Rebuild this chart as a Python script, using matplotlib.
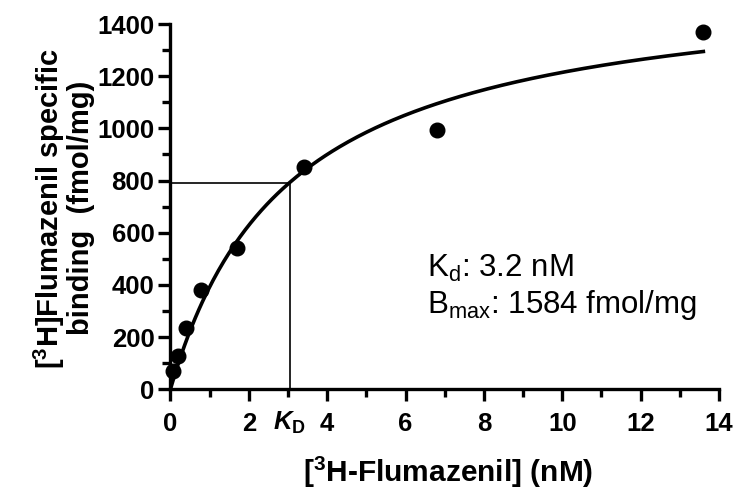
import numpy as np
import matplotlib
matplotlib.use('Agg')
import matplotlib.pyplot as plt
from matplotlib.ticker import MultipleLocator

plt.rcParams['font.family'] = ['Liberation Sans', 'DejaVu Sans']
plt.rcParams['mathtext.fontset'] = 'custom'
plt.rcParams['mathtext.rm'] = 'Liberation Sans'
plt.rcParams['mathtext.it'] = 'Liberation Sans:italic:bold'
plt.rcParams['mathtext.bf'] = 'Liberation Sans:bold'

# Data
conc_nM = [0.075, 0.2, 0.39, 0.78, 1.7, 3.4, 6.8, 13.6]
binding = [71, 128, 236, 381, 540, 853, 994, 1368]

# One-site fit (curve drawn through the points)
bmax = 1584
kd_fit = 3.04
kd_text = 3.2

fig = plt.figure(figsize=(7.38, 4.92), dpi=100)
ax = fig.add_axes([0.2309, 0.2087, 0.7434, 0.7425])

xs = np.linspace(0, conc_nM[-1], 300)
ax.plot(xs, bmax * xs / (xs + kd_fit), color='black', linewidth=2.6, clip_on=False, zorder=3)
ax.plot(conc_nM, binding, 'o', color='black', markersize=10.5, clip_on=False, zorder=4)

# Kd guide lines
half = bmax / 2
ax.plot([0, kd_fit], [half, half], color='black', linewidth=1.2)
ax.plot([kd_fit, kd_fit], [0, half], color='black', linewidth=1.2)

ax.set_xlim(0, 14)
ax.set_ylim(0, 1400)
ax.xaxis.set_major_locator(MultipleLocator(2))
ax.xaxis.set_minor_locator(MultipleLocator(1))
ax.yaxis.set_major_locator(MultipleLocator(200))
ax.yaxis.set_minor_locator(MultipleLocator(100))

for s in ['top', 'right']:
    ax.spines[s].set_visible(False)
for s in ['left', 'bottom']:
    ax.spines[s].set_linewidth(2.4)

ax.tick_params(which='major', direction='out', length=8.5, width=2.4, labelsize=18.5)
ax.tick_params(which='minor', direction='out', length=6, width=2.4)
ax.tick_params(axis='x', which='major', pad=8)
ax.tick_params(axis='y', which='major', pad=3)
for lbl in ax.get_xticklabels() + ax.get_yticklabels():
    lbl.set_fontweight('bold')

ax.annotate(r'$\mathit{K}_{\mathbf{D}}$', xy=(kd_fit, 0), xycoords=('data', 'axes fraction'),
            xytext=(0, -15), textcoords='offset points', ha='center', va='top', fontsize=18.5)

fig.text(0.607, 0.021, r'[$^{\mathbf{3}}$H-Flumazenil] (nM)', fontsize=21.5, fontweight='bold',
         ha='center', va='baseline')
fig.text(0.086, 0.577, '[$^{\\mathbf{3}}$H]Flumazenil specific\nbinding  (fmol/mg)', fontsize=21,
         fontweight='bold', rotation=90, ha='center', va='center', multialignment='center',
         linespacing=1.0)

ax.text(6.55, 430, r'K$_\mathrm{d}$: ' + f'{kd_text} nM', fontsize=22.5, va='baseline')
ax.text(6.55, 292, r'B$_\mathrm{max}$: ' + f'{bmax} fmol/mg', fontsize=22.5, va='baseline')

fig.savefig('out.png', dpi=100)
